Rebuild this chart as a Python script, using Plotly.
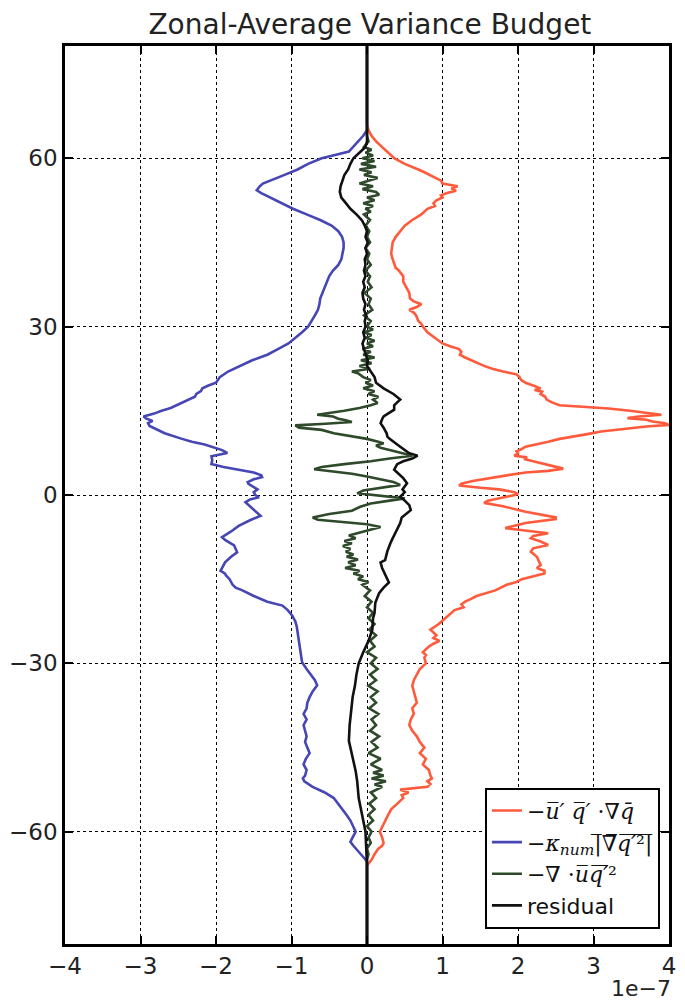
import plotly.graph_objects as go

# ---------------- data (x in units of 1e-7, y = latitude) ----------------
red_lat = [80, 66, 65, 64, 63, 62, 61, 60, 59, 58.5, 58, 57.5, 57, 56.5, 56, 55.5, 55, 54.6, 54.2, 53.8,
           53.4, 53, 52.5, 52, 51.5, 51, 50.5, 50, 49, 48, 47, 46, 45, 44, 43, 42, 41, 40.5, 40, 39.5,
           39, 38, 37, 36.5, 36, 35, 34.5, 34, 33.5, 33, 32.5, 32, 31, 30.5, 30, 29, 28.5, 28, 27.5, 27,
           26.5, 26, 25.5, 25, 24.5, 24, 23.5, 23, 22.5, 22, 21.5, 21, 20.5, 20, 19.5, 19, 18.7, 18.4, 18, 17.5,
           17, 16.5, 16, 15.7, 15.4, 15, 14.6, 14.3, 14, 13.7, 13.4, 13.1, 12.8, 12.5, 12.2, 11.8, 11.3, 10.8, 10.4, 10,
           9.5, 9, 8.6, 8.2, 7.8, 7.4, 7, 6.7, 6.4, 6, 5.5, 5, 4.7, 4.3, 4, 3.5, 3, 2.5, 2, 1.7,
           1.3, 1, 0.5, 0.2, 0, -0.5, -1, -1.4, -2, -3, -4, -4.3, -5, -5.9, -6.3, -6.8, -7.3, -7.7, -8.3, -8.9,
           -9.5, -10.1, -11, -12, -12.5, -13, -13.5, -14, -14.5, -15, -15.5, -16, -17, -18, -18.5, -19, -19.5, -20, -20.5, -21,
           -22, -23, -24, -24.5, -25, -25.5, -26, -26.5, -27, -28, -28.5, -29, -30, -31, -32, -33, -34, -35, -36, -37,
           -38, -39, -40, -41, -42, -43, -44, -45, -46, -47, -48, -49, -50, -50.5, -51, -51.5, -52, -52.5, -53, -53.5,
           -54, -55, -56, -57, -58, -59, -60, -61, -62, -62.5, -63, -64, -65, -66, -80]
red_val = [0, 0, 0.02, 0.06, 0.12, 0.2, 0.28, 0.36, 0.5, 0.6, 0.68, 0.76, 0.84, 0.9, 0.98, 1.0, 1.2, 1.12, 1.18, 1.06,
           0.98, 1.0, 0.92, 0.88, 0.9, 0.8, 0.76, 0.72, 0.6, 0.5, 0.44, 0.38, 0.34, 0.33, 0.32, 0.34, 0.36, 0.38, 0.42, 0.45,
           0.48, 0.48, 0.52, 0.54, 0.56, 0.57, 0.62, 0.72, 0.66, 0.56, 0.62, 0.65, 0.68, 0.72, 0.74, 0.8, 0.85, 0.9, 0.95, 1.0,
           1.1, 1.22, 1.25, 1.23, 1.3, 1.38, 1.45, 1.55, 1.66, 1.8, 1.98, 2.02, 2.04, 2.1, 2.2, 2.3, 2.22, 2.32, 2.3, 2.36,
           2.38, 2.45, 2.55, 2.9, 3.2, 3.48, 3.7, 3.9, 3.6, 3.45, 3.7, 3.78, 3.95, 4.0, 3.7, 3.4, 3.1, 2.9, 2.7, 2.55,
           2.4, 2.25, 2.1, 2.05, 1.98, 2.0, 1.95, 2.12, 2.08, 2.2, 2.35, 2.5, 2.6, 2.4, 2.1, 1.85, 1.6, 1.4, 1.25, 1.22,
           1.5, 1.75, 1.95, 2.0, 1.96, 1.8, 1.6, 1.55, 1.8, 2.1, 2.5, 2.5, 2.1, 1.83, 2.1, 2.4, 2.2, 2.17, 2.3, 2.4,
           2.2, 2.17, 2.25, 2.28, 2.3, 2.25, 2.35, 2.35, 2.2, 2.05, 1.98, 1.85, 1.7, 1.45, 1.38, 1.3, 1.25, 1.28, 1.16, 1.12,
           1.04, 0.95, 0.84, 0.88, 0.92, 0.88, 0.96, 0.88, 0.82, 0.74, 0.78, 0.76, 0.78, 0.7, 0.66, 0.62, 0.6, 0.62, 0.64, 0.66,
           0.6, 0.62, 0.58, 0.56, 0.6, 0.66, 0.7, 0.76, 0.7, 0.78, 0.74, 0.82, 0.84, 0.86, 0.8, 0.84, 0.8, 0.44, 0.55, 0.46,
           0.48, 0.4, 0.32, 0.28, 0.24, 0.2, 0.17, 0.2, 0.22, 0.2, 0.15, 0.1, 0.06, 0, 0]

blue_lat = [80, 66, 65, 64, 63, 62, 61.2, 60.5, 60, 59, 58, 57, 56, 55.5, 55, 54.3, 53.8, 53, 52, 51,
            50, 49, 48, 47, 46, 45, 44, 43, 42, 41, 40, 39, 38, 37, 36, 35, 34, 33, 32, 31,
            30, 29, 28, 27, 26, 25, 24, 23, 22, 21, 20, 19.5, 19, 18.5, 18, 17.5, 17, 16, 15.5, 15,
            14.5, 14, 13.6, 13.2, 12.8, 12.3, 11.5, 11, 10, 9.5, 9, 8.4, 8, 7.5, 7.2, 6.9, 6.2, 5.5, 5, 4.5,
            4, 3.5, 3.2, 2.8, 2.3, 2, 1.5, 1, 0.5, 0, -0.4, -0.8, -1.3, -2, -3, -3.7, -4.5, -5.5, -6.5, -7.5,
            -8, -8.4, -9, -10.2, -11, -12, -13, -13.5, -14, -14.3, -15, -16, -16.5, -17, -18, -18.5, -19, -19.7, -20.5, -21.5,
            -22.5, -23.5, -24.5, -25.6, -27, -28.5, -29.8, -31, -32, -33, -33.9, -35, -36, -37, -38, -39, -40, -41, -42, -43,
            -44, -45, -46, -47, -48, -49, -50, -50.5, -51, -52, -53, -54, -55, -56, -57, -58, -59, -60, -61, -61.8,
            -62.5, -63.5, -64.5, -65.3, -80]
blue_val = [0, 0, 0, -0.05, -0.12, -0.18, -0.24, -0.45, -0.6, -0.78, -0.92, -1.1, -1.3, -1.38, -1.42, -1.46, -1.4, -1.28, -1.15, -0.98,
            -0.8, -0.62, -0.47, -0.38, -0.33, -0.31, -0.31, -0.32, -0.34, -0.38, -0.45, -0.5, -0.53, -0.56, -0.6, -0.62, -0.63, -0.65, -0.69, -0.73,
            -0.78, -0.86, -0.95, -1.04, -1.18, -1.32, -1.52, -1.68, -1.84, -1.95, -2.0, -2.1, -2.18, -2.2, -2.26, -2.28, -2.36, -2.5, -2.6, -2.72,
            -2.82, -2.96, -2.92, -2.84, -2.9, -2.88, -2.75, -2.68, -2.45, -2.32, -2.15, -2.01, -1.92, -1.85, -1.95, -2.06, -2.05, -2.06, -1.9, -1.7,
            -1.5, -1.4, -1.39, -1.5, -1.58, -1.57, -1.5, -1.45, -1.5, -1.48, -1.43, -1.55, -1.61, -1.55, -1.46, -1.41, -1.55, -1.7, -1.8, -1.92,
            -1.88, -1.83, -1.76, -1.72, -1.8, -1.88, -1.92, -1.94, -1.88, -1.87, -1.82, -1.78, -1.74, -1.65, -1.5, -1.42, -1.32, -1.12, -1.05, -0.99,
            -0.95, -0.93, -0.92, -0.9, -0.89, -0.88, -0.86, -0.8, -0.74, -0.69, -0.66, -0.72, -0.76, -0.79, -0.8, -0.84, -0.8, -0.84, -0.82, -0.8,
            -0.82, -0.79, -0.76, -0.81, -0.84, -0.8, -0.82, -0.85, -0.83, -0.72, -0.56, -0.44, -0.38, -0.32, -0.27, -0.22, -0.18, -0.15, -0.19, -0.22,
            -0.18, -0.11, -0.05, 0, 0]

green_lat = [80, 64, 63, 62, 61.5, 61, 60.5, 60, 59.5, 59, 58.5, 58, 57.5, 57, 56.5, 56, 55.5, 55, 54.5, 54,
             53.5, 53, 52.5, 52, 51.5, 51, 50.5, 50, 49, 48, 47, 46, 45, 44, 43, 42, 41, 40, 39, 38,
             37, 36, 35, 34, 33, 32, 31, 30, 29.5, 29, 28.5, 28, 27.5, 27, 26.5, 26, 25.5, 25, 24.5, 24,
             23.5, 23, 22.5, 22, 21.7, 21, 20.5, 20, 19.5, 19, 18.5, 18, 17.5, 17, 16.4, 16, 15.5, 15, 14.6, 14.3,
             14, 13.6, 13.3, 13, 12.7, 12.4, 12, 11.6, 11, 10.5, 10, 9.5, 9.2, 8.8, 8.4, 8, 7.5, 7, 6.5, 6,
             5.5, 5, 4.6, 4.2, 3.8, 3.3, 2.8, 2.3, 1.8, 1.3, 0.8, 0.3, 0, -0.6, -1, -1.5, -2.1, -2.8, -3.4, -4,
             -4.4, -4.8, -5.2, -5.7, -6.2, -6.7, -7.2, -7.7, -8.2, -8.6, -9.1, -9.6, -10.1, -10.6, -11, -11.5, -12, -12.5, -13, -13.5,
             -14, -14.5, -15, -15.5, -16, -17, -18, -19, -20, -21, -22, -23, -24, -25, -26, -27, -28, -29, -30, -31,
             -32, -33, -34, -35, -36, -37, -38, -39, -40, -41, -42, -43, -44, -45, -46, -47, -48, -49, -49.5, -50,
             -50.5, -51, -51.6, -52, -53, -54, -55, -56, -57, -58, -59, -60, -61, -62, -63, -64, -65, -80]
green_val = [0, 0, 0.02, -0.04, 0.06, -0.02, 0.08, -0.06, 0.1, -0.08, 0.12, -0.1, 0.06, -0.04, 0.14, 0.02, -0.1, 0.08, -0.06, 0.12,
             0.16, 0.0, 0.1, -0.05, 0.08, -0.02, 0.05, -0.04, 0.04, -0.02, 0.03, 0.0, 0.04, -0.02, 0.03, 0.0, 0.05, -0.02, 0.04, 0.01,
             0.06, -0.03, 0.05, 0.02, 0.07, -0.04, 0.05, 0.0, 0.08, -0.04, 0.06, -0.02, 0.1, 0.0, 0.08, -0.06, 0.05, -0.05, 0.1, -0.08,
             0.06, -0.1, 0.04, -0.2, -0.12, -0.05, 0.05, -0.02, 0.08, -0.05, 0.1, 0.02, 0.15, 0.08, 0.14, 0.05, -0.1, -0.3, -0.55, -0.66,
             -0.45, -0.38, -0.28, -0.2, -0.55, -0.95, -0.9, -0.6, -0.44, -0.2, 0.0, 0.15, 0.22, 0.12, 0.18, 0.3, 0.45, 0.6, 0.3, 0.05,
             -0.3, -0.6, -0.7, -0.45, -0.2, 0.0, 0.2, 0.35, 0.44, 0.2, -0.05, -0.13, 0.1, 0.5, 0.3, 0.05, -0.09, -0.2, -0.5, -0.72,
             -0.65, -0.3, 0.0, 0.18, 0.05, -0.1, -0.24, -0.15, -0.3, -0.2, -0.32, -0.22, -0.28, -0.18, -0.27, -0.12, -0.25, -0.15, -0.29, -0.1,
             -0.18, -0.05, -0.12, 0.02, -0.06, 0.04, -0.03, 0.06, 0.0, 0.08, 0.02, 0.1, 0.03, 0.12, 0.04, 0.1, 0.0, 0.12, 0.05, 0.14,
             0.04, 0.12, 0.02, 0.14, 0.05, 0.12, 0.03, 0.15, 0.06, 0.12, 0.04, 0.16, 0.06, 0.14, 0.02, 0.18, 0.05, 0.2, 0.08, 0.22,
             0.06, 0.25, 0.1, 0.2, 0.05, 0.12, 0.03, 0.1, 0.02, 0.08, 0.0, 0.06, 0.02, 0.05, 0.0, 0.02, 0, 0]

resid_lat = [80, 63, 62, 61, 60, 59, 58, 57, 56, 55, 54, 53, 52, 51, 50, 49, 48, 47, 46, 45,
             44, 43, 42, 41, 40, 39, 38, 37, 36, 35, 34, 33, 32, 31, 30, 29, 28, 27, 26, 25,
             24, 23, 22, 21, 20, 19, 18, 17, 16.5, 16, 15.2, 14.5, 14, 13.5, 12.8, 12, 11, 10.4, 10, 9,
             8, 7.5, 7, 6.5, 6, 5.5, 5, 4.5, 4, 3, 2.1, 1.5, 1, 0.5, -0.3, -1, -1.8, -2.7, -3.5, -4,
             -5, -6, -7, -8, -8.6, -10, -11.6, -12, -13, -14, -15, -15.6, -16.5, -17.5, -19.2, -21, -22, -24, -26, -28,
             -30, -32, -34, -36, -37.2, -39, -41, -43.8, -45, -47, -49.2, -51, -52, -54, -56, -58, -60, -63, -66, -80]
resid_val = [0, 0, -0.02, -0.1, -0.18, -0.22, -0.25, -0.3, -0.33, -0.35, -0.36, -0.34, -0.28, -0.22, -0.14, -0.07, -0.03, 0.0, -0.02, 0.01,
             -0.02, 0.0, -0.03, -0.02, -0.04, -0.02, -0.05, -0.03, -0.06, -0.05, -0.02, -0.04, -0.01, -0.03, -0.02, -0.05, -0.03, -0.06, -0.04, -0.02,
             0.01, 0.0, 0.05, 0.1, 0.12, 0.22, 0.35, 0.44, 0.4, 0.36, 0.36, 0.28, 0.22, 0.2, 0.18, 0.22, 0.26, 0.27, 0.3, 0.4,
             0.49, 0.55, 0.67, 0.6, 0.48, 0.4, 0.38, 0.36, 0.4, 0.48, 0.53, 0.5, 0.47, 0.5, 0.44, 0.5, 0.56, 0.58, 0.5, 0.46,
             0.44, 0.4, 0.36, 0.33, 0.31, 0.27, 0.24, 0.18, 0.2, 0.24, 0.27, 0.29, 0.22, 0.16, 0.11, 0.1, 0.08, 0.07, 0.02, -0.05,
             -0.11, -0.14, -0.16, -0.19, -0.2, -0.22, -0.23, -0.24, -0.22, -0.18, -0.15, -0.13, -0.12, -0.11, -0.08, -0.05, -0.02, -0.01, 0, 0]

x_ticks = [-4, -3, -2, -1, 0, 1, 2, 3, 4]
y_ticks = [-60, -30, 0, 30, 60]

labels = ["\u2212<i>u\u0305\u2032 q\u0305\u2032</i> \u00b7\u2207<i>q\u0304</i>",
          "\u2212<i>\u03ba<sub>num</sub></i>|\u0305\u2207\u0305<i>q\u0305\u2032\u0305</i>\u00b2\u0305|\u0305",
          "\u2212\u2207 \u00b7<i>u\u0305q\u0305\u2032\u0305</i>\u00b2",
          "<span style='font-family:DejaVu Sans'>residual</span>"]
colors = ["#ff5a3c", "#4646b4", "#2e4a2a", "#111111"]

fig = go.Figure()
series = [(red_val, red_lat), (blue_val, blue_lat), (green_val, green_lat), (resid_val, resid_lat)]
for (xv, yv), name, col in zip(series, labels, colors):
    fig.add_trace(go.Scatter(x=xv, y=yv, mode="lines", name=name,
                             line=dict(color=col, width=2.6)))

axis_common = dict(showline=True, linecolor="black", linewidth=2.5, mirror="ticks",
                   ticks="inside", ticklen=8, tickwidth=1.5, tickcolor="black",
                   showgrid=True, gridcolor="black", gridwidth=1.3, griddash="dot",
                   zeroline=False, tickfont=dict(family="DejaVu Sans", size=23, color="#222"))

fig.update_xaxes(range=[-4, 4], tickvals=x_ticks, ticktext=["\u2212" + str(-t) if t < 0 else str(t) for t in x_ticks],
                 **axis_common)
fig.update_yaxes(range=[-80, 80], tickvals=y_ticks, ticktext=["\u2212" + str(-t) if t < 0 else str(t) for t in y_ticks],
                 **axis_common)

fig.add_annotation(text="1e\u22127", xref="paper", yref="paper", x=1.006, y=-0.049,
                   xanchor="right", yanchor="middle", showarrow=False,
                   font=dict(family="DejaVu Sans", size=22, color="#222"))

fig.update_layout(
    width=685, height=1000,
    margin=dict(l=64, r=9, t=46, b=56),
    paper_bgcolor="white", plot_bgcolor="white",
    title=dict(text="Zonal-Average Variance Budget", x=0.54, xanchor="center", y=0.976, yanchor="middle",
               font=dict(family="DejaVu Sans", size=28, color="#222")),
    legend=dict(x=0.985, y=0.017, xanchor="right", yanchor="bottom",
                bgcolor="white", bordercolor="black", borderwidth=2,
                font=dict(family="DejaVu Serif", size=22, color="#111"),
                itemwidth=30, tracegroupgap=6),
    showlegend=True,
)

fig.write_html("out.html")
